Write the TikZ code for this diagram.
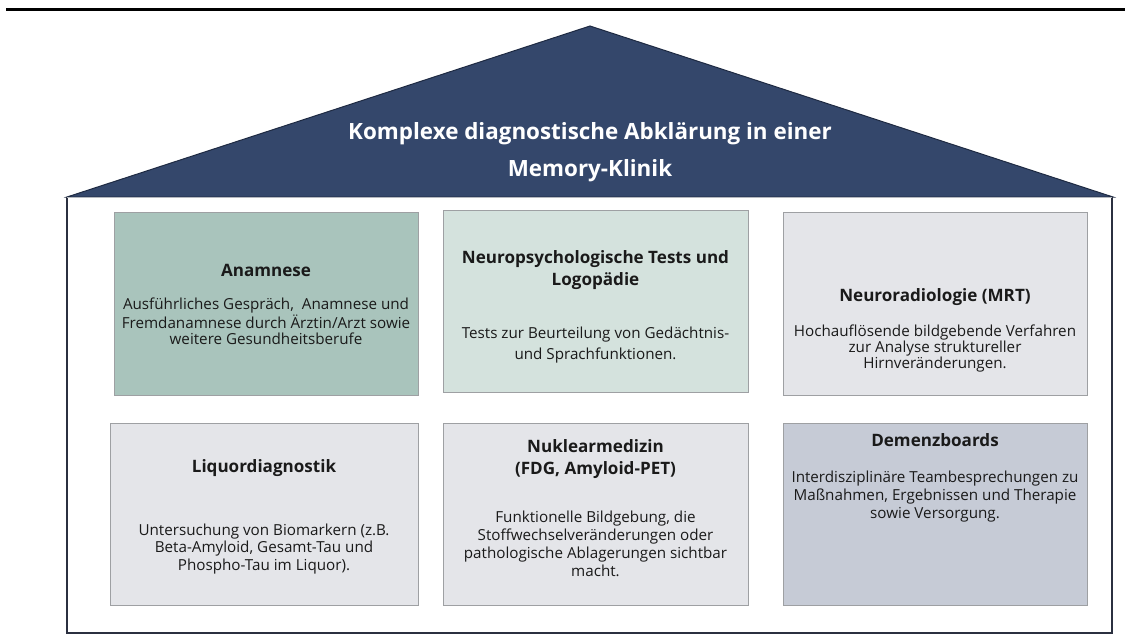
\documentclass[tikz,border=0pt]{standalone}
\usepackage{fontspec}
\setmainfont{Open Sans}
\definecolor{roof}{HTML}{34476B}
\definecolor{roofedge}{HTML}{1E2A42}
\definecolor{outeredge}{HTML}{2B3040}
\definecolor{topedge}{HTML}{B4B8BE}
\definecolor{sage}{HTML}{A9C4BC}
\definecolor{mint}{HTML}{D4E2DD}
\definecolor{lightgrey}{HTML}{E4E5E9}
\definecolor{bluegrey}{HTML}{C6CBD6}
\definecolor{cardedge}{HTML}{9EA0A3}
\definecolor{txt}{HTML}{1A1A1A}
\begin{document}
\begin{tikzpicture}[x=0.75pt,y=-0.75pt,
  card/.style={draw=cardedge,line width=0.9pt,anchor=north west,inner sep=0pt},
  head/.style={align=center,text=txt,inner sep=0pt,font=\bfseries\fontsize{12.8}{16.5}\selectfont},
  body/.style={align=center,text=txt,inner sep=0pt,font=\fontsize{11.4}{12}\selectfont},
  bodywide/.style={align=center,text=txt,inner sep=0pt,font=\fontsize{11.4}{13.4}\selectfont},
  titletext/.style={align=center,text=white,inner sep=0pt,font=\bfseries\fontsize{16.8}{27.75}\selectfont}]
\useasboundingbox (0,0) rectangle (1125,635);
% top rule
\draw[line width=2.25pt] (6,9.5) -- (1125,9.5);
% roof
\filldraw[fill=roof,draw=roofedge,line width=0.75pt,line join=miter] (67,197) -- (590,26) -- (1113,197) -- cycle;
\node[titletext] (title) at (590,152) {Komplexe diagnostische Abklärung in einer\\Memory-Klinik};
% outer box
\draw[draw=outeredge,line width=1.4pt] (67,197) -- (67,633) -- (1112,633) -- (1112,197);
\draw[draw=topedge,line width=1.4pt] (67,197.5) -- (1112,197.5);
% cards, top row
\node[card,fill=sage,minimum width=228pt,minimum height=137.25pt] (anam) at (114,212) {};
\node[card,fill=mint,minimum width=228.75pt,minimum height=136.5pt] (neuro) at (443,210) {};
\node[card,fill=lightgrey,minimum width=228pt,minimum height=137.25pt] (mrt) at (783,212) {};
% cards, bottom row
\node[card,fill=lightgrey,minimum width=231pt,minimum height=136.5pt] (liquor) at (110,423) {};
\node[card,fill=lightgrey,minimum width=228.75pt,minimum height=136.5pt] (nuk) at (443,423) {};
\node[card,fill=bluegrey,minimum width=228pt,minimum height=136.5pt] (demenz) at (783,423) {};
% texts
\node[head] (anamH) at (266,270) {Anamnese};
\node[body] (anamB) at (266,321) {Ausführliches Gespräch,\ \ Anamnese und\\Fremdanamnese durch Ärztin/Arzt sowie\\weitere Gesundheitsberufe};
\node[head] (neuroH) at (595.5,270) {Neuropsychologische Tests und\\Logopädie};
\node[body,font=\fontsize{11.4}{15.75}\selectfont] (neuroB) at (595.5,345) {Tests zur Beurteilung von Gedächtnis-\\und Sprachfunktionen.};
\node[head] (mrtH) at (935,297) {Neuroradiologie (MRT)};
\node[body] (mrtB) at (935,348.5) {Hochauflösende bildgebende Verfahren\\zur Analyse struktureller\\Hirnveränderungen.};
\node[head] (liquorH) at (264,468) {Liquordiagnostik};
\node[bodywide] (liquorB) at (264,549) {Untersuchung von Biomarkern (z.B.\\Beta-Amyloid, Gesamt-Tau und\\Phospho-Tau im Liquor).};
\node[head] (nukH) at (595.5,459.5) {Nuklearmedizin\\(FDG, Amyloid-PET)};
\node[bodywide] (nukB) at (595.5,544) {Funktionelle Bildgebung, die\\Stoffwechselveränderungen oder\\pathologische Ablagerungen sichtbar\\macht.};
\node[head] (demenzH) at (935,440) {Demenzboards};
\node[bodywide] (demenzB) at (935,496.5) {Interdisziplinäre Teambesprechungen zu\\Maßnahmen, Ergebnissen und Therapie\\sowie Versorgung.};
\end{tikzpicture}
\end{document}
